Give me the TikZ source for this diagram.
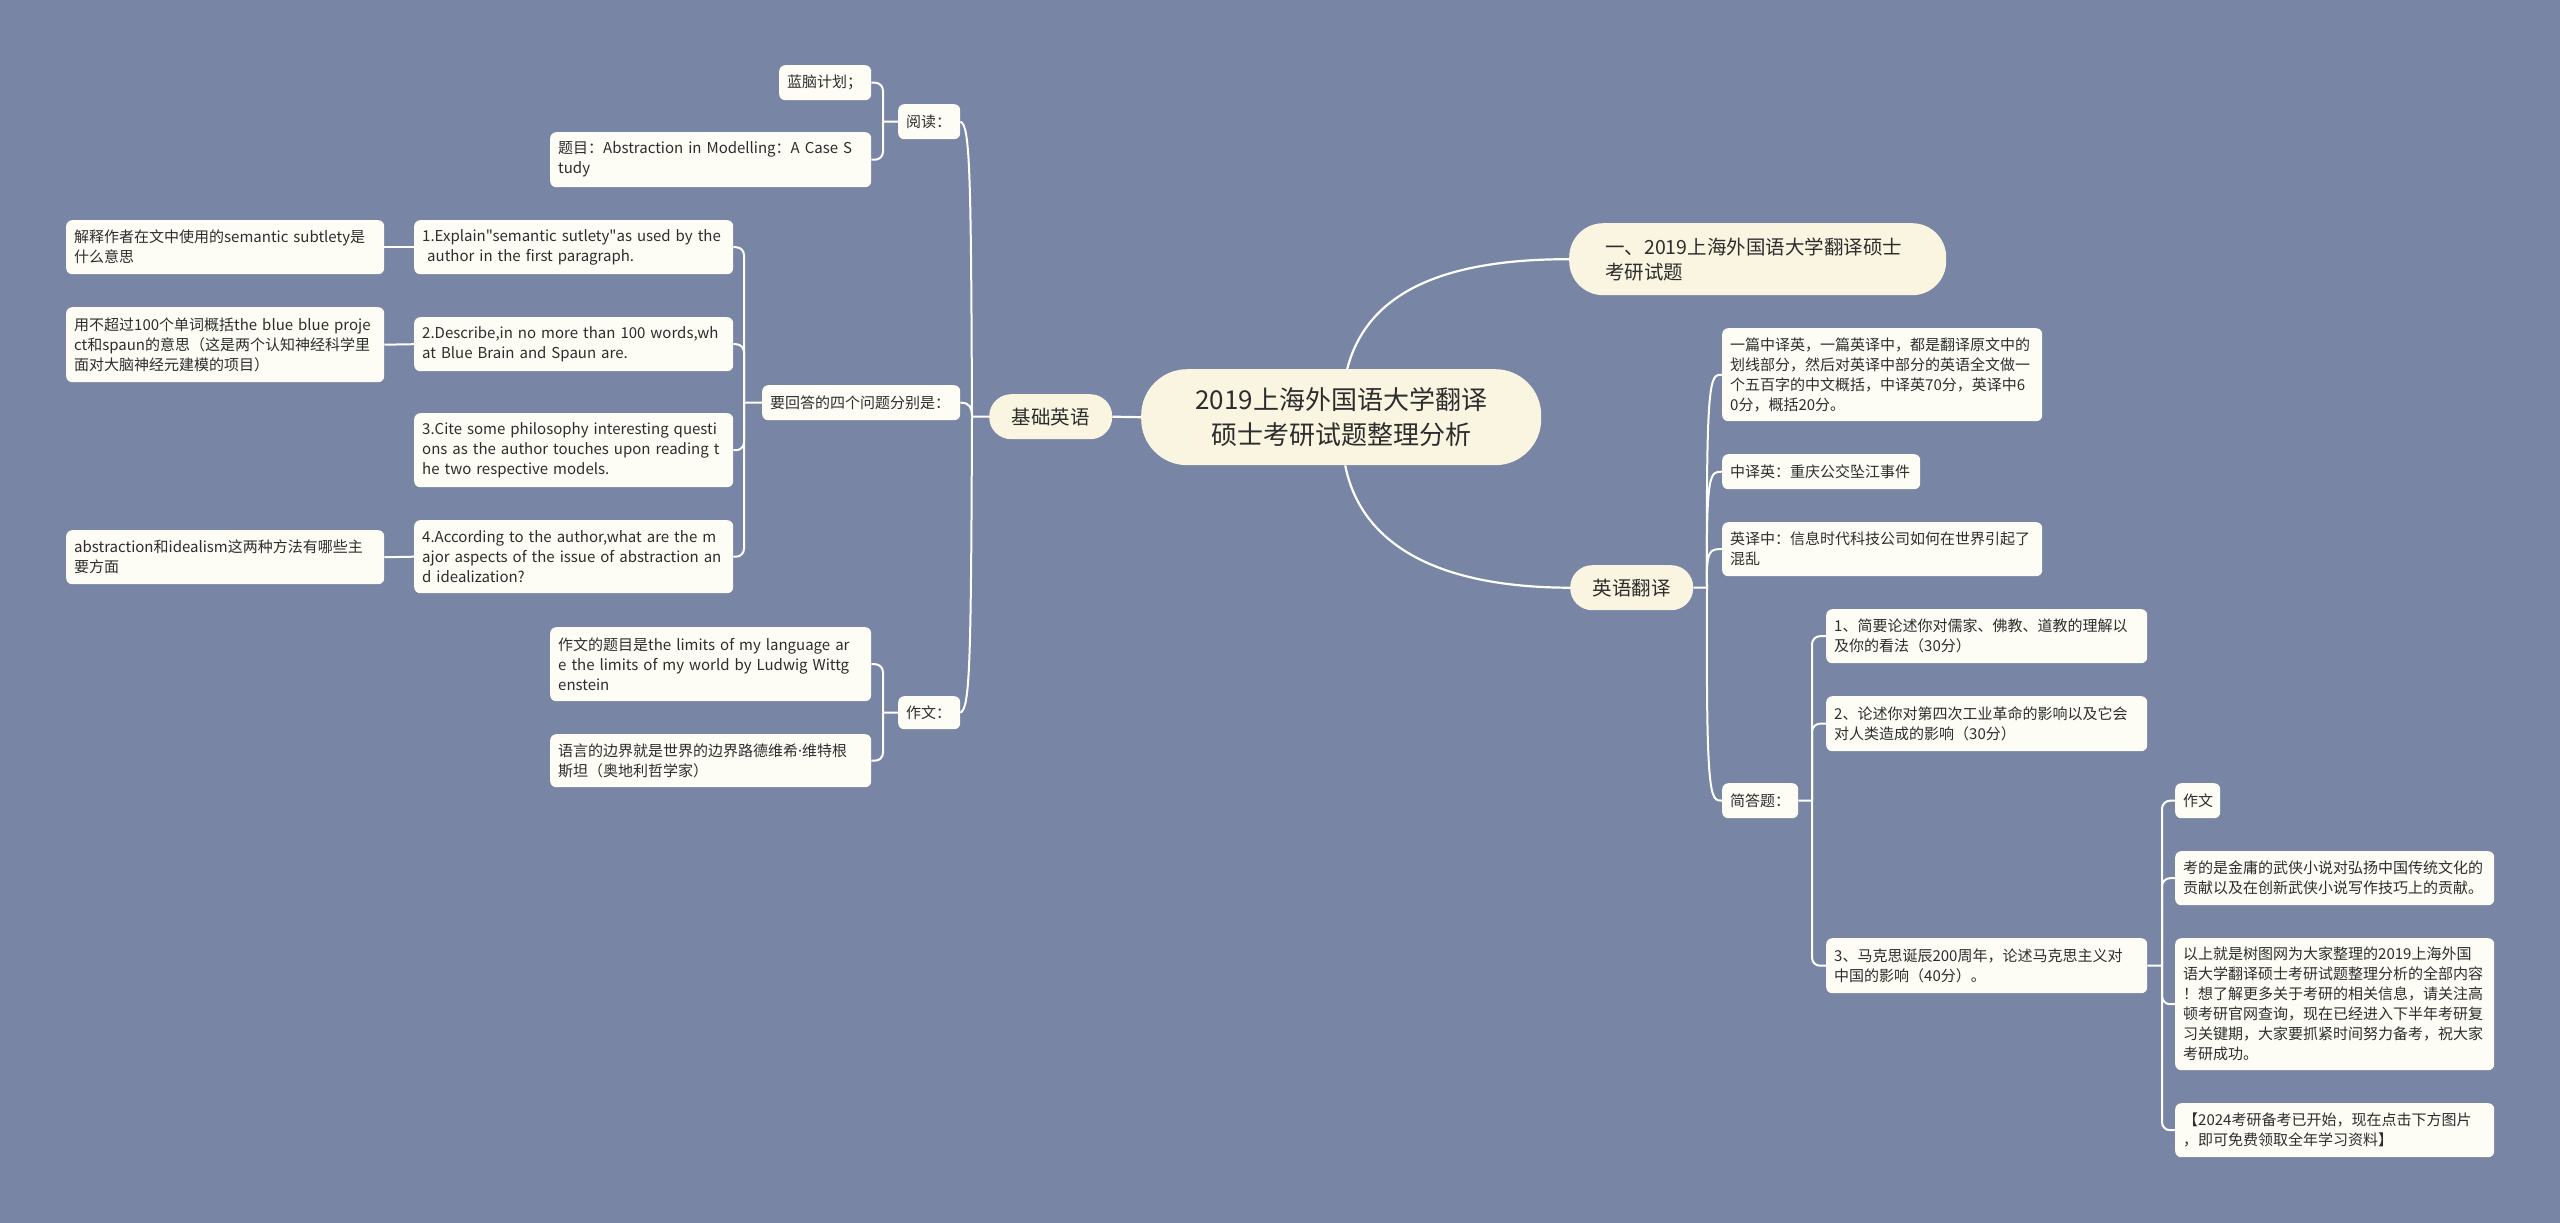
\documentclass[tikz,border=0pt]{standalone}
\usepackage{fontspec}
\setmainfont{Noto Sans CJK SC}[Ligatures=TeXOff]
\newfontfamily\latinfont{Noto Sans}
\usetikzlibrary{calc}
\definecolor{bg}{RGB}{120,133,164}
\definecolor{leaffill}{RGB}{253,253,246}
\definecolor{mainfill}{RGB}{250,245,225}
\definecolor{txt}{RGB}{45,45,45}
\begin{document}
\begin{tikzpicture}[x=1pt,y=-1pt,
  conn/.style={draw=white,line width=2pt},
  elbow/.style={conn,rounded corners=8pt},
  leaf/.style={fill=leaffill,rounded corners=6pt,inner xsep=8pt,inner ysep=0pt,align=left,anchor=north west,text=txt,font=\fontsize{15pt}{20pt}\selectfont},
  topic/.style={fill=mainfill,inner sep=0pt,align=center,anchor=north west,text=txt,font=\fontsize{19.5pt}{25pt}\selectfont,minimum width=123pt,minimum height=45pt,rounded corners=22pt},
  central/.style={fill=mainfill,inner sep=0pt,align=center,anchor=north west,text=txt,font=\fontsize{26pt}{35pt}\selectfont,minimum width=400pt,minimum height=96pt,rounded corners=46pt},
]
\fill[bg] (0,0) rectangle (2560,1223);
\useasboundingbox (0,0) rectangle (2560,1223);

% ---------- central & level-1 ----------
\node[central] (center) at (1141,369) {2019上海外国语大学翻译\\硕士考研试题整理分析};
\node[topic] (jichu) at (989,394) {基础英语};
\node[topic] (yingyu) at (1570,565) {英语翻译};
\node[topic,align=left,inner xsep=36pt,text width=305pt,minimum height=72pt,rounded corners=34pt] (yi) at (1569,223) {一、2019上海外国语大学翻译硕士\\考研试题};

% ---------- left: 基础英语 ----------
\node[leaf,text width=46pt,minimum height=35pt] (yuedu) at (898,104) {阅读：};
\node[leaf,text width=76pt,minimum height=35pt] (lanao) at (779,65) {蓝脑计划；};
\node[leaf,text width=305pt,minimum height=55pt] (timu) at (550,132) {题目：Abstraction in Modelling：A Case S\\tudy};

\node[leaf,text width=182pt,minimum height=35pt] (yaohuida) at (762,385) {要回答的四个问题分别是：};
\node[leaf,text width=303pt,minimum height=54pt] (q1e) at (414,220) {\mbox{1.Explain"semantic sutlety"as used by the}\\\ author in the first paragraph.};
\node[leaf,text width=303pt,minimum height=54pt] (q2e) at (414,317) {2.Describe,in no more than 100 words,wh\\at Blue Brain and Spaun are.};
\node[leaf,text width=303pt,minimum height=74pt] (q3e) at (414,413) {3.Cite some philosophy interesting questi\\ons as the author touches upon reading t\\he two respective models.};
\node[leaf,text width=303pt,minimum height=73pt] (q4e) at (414,520) {4.According to the author,what are the m\\ajor aspects of the issue of abstraction an\\d idealization?};
\node[leaf,text width=302pt,minimum height=54pt] (jieshi) at (66,220) {解释作者在文中使用的semantic subtlety是\\什么意思};
\node[leaf,text width=302pt,minimum height=75pt] (gaikuo) at (66,307) {用不超过100个单词概括the blue blue proje\\ct和spaun的意思（这是两个认知神经科学里\\面对大脑神经元建模的项目）};
\node[leaf,text width=302pt,minimum height=54pt] (abst) at (66,530) {abstraction和idealism这两种方法有哪些主\\要方面};

\node[leaf,text width=46pt,minimum height=33pt] (zuowenL) at (898,696) {作文：};
\node[leaf,text width=305pt,minimum height=74pt] (zwtimu) at (550,627) {作文的题目是the limits of my language ar\\e the limits of my world by Ludwig Wittg\\enstein};
\node[leaf,text width=305pt,minimum height=53pt] (yuyan) at (550,734) {语言的边界就是世界的边界路德维希{\latinfont ·}维特根\\斯坦（奥地利哲学家）};

% ---------- right: 英语翻译 ----------
\node[leaf,text width=304pt,minimum height=93pt] (yipian) at (1722,328) {一篇中译英，一篇英译中，都是翻译原文中的\\划线部分，然后对英译中部分的英语全文做一\\个五百字的中文概括，中译英70分，英译中6\\0分，概括20分。};
\node[leaf,text width=182pt,minimum height=35pt] (zhongyi) at (1722,454) {中译英：重庆公交坠江事件};
\node[leaf,text width=304pt,minimum height=54pt] (yingyi) at (1722,522) {英译中：信息时代科技公司如何在世界引起了\\混乱};
\node[leaf,text width=60pt,minimum height=35pt] (jianda) at (1722,783) {简答题：};
\node[leaf,text width=305pt,minimum height=54pt] (jd1) at (1826,609) {1、简要论述你对儒家、佛教、道教的理解以\\及你的看法（30分）};
\node[leaf,text width=305pt,minimum height=55pt] (jd2) at (1826,696) {2、论述你对第四次工业革命的影响以及它会\\对人类造成的影响（30分）};
\node[leaf,text width=305pt,minimum height=55pt] (jd3) at (1826,938) {3、马克思诞辰200周年，论述马克思主义对\\中国的影响（40分）。};
\node[leaf,text width=29pt,minimum height=35pt] (zuowenR) at (2175,783) {作文};
\node[leaf,text width=303pt,minimum height=54pt] (kaode) at (2175,851) {考的是金庸的武侠小说对弘扬中国传统文化的\\贡献以及在创新武侠小说写作技巧上的贡献。};
\node[leaf,text width=303pt,minimum height=132pt] (yishang) at (2175,938) {以上就是树图网为大家整理的2019上海外国\\语大学翻译硕士考研试题整理分析的全部内容\\！想了解更多关于考研的相关信息，请关注高\\顿考研官网查询，现在已经进入下半年考研复\\习关键期，大家要抓紧时间努力备考，祝大家\\考研成功。};
\node[leaf,text width=303pt,minimum height=54pt] (kaoyan) at (2175,1103) {【2024考研备考已开始，现在点击下方图片\\，即可免费领取全年学习资料】};

% ---------- junctions ----------
\coordinate (jYD) at (883,121.5);
\coordinate (jYH) at (744,402.5);
\coordinate (jZW) at (883,712.5);
\coordinate (jJC) at (972,416.5);
\coordinate (jYY) at (1707,587.5);
\coordinate (jJD) at (1812,800.5);
\coordinate (jD3) at (2162,965.5);

% ---------- connectors: centre ----------
\draw[conn,line width=2.2pt] (center.west) -- (jichu.east);
\draw[conn,line width=2.2pt] ([xshift=6pt]center.north) .. controls (1365,300) and (1430,259) .. (yi.west);
\draw[conn,line width=2.2pt] ([xshift=4pt]center.south) .. controls (1360,540) and (1430,587.5) .. (yingyu.west);

% ---------- connectors: left ----------
\draw[conn] (jichu.west) -- (jJC);
\draw[conn] (yuedu.east) .. controls (970,125) and (971,170) .. (jJC);
\draw[conn] (zuowenL.east) .. controls (970,708) and (971,665) .. (jJC);
\draw[conn] (yaohuida.east) .. controls (970,402.5) and (972,408) .. (jJC);

\draw[conn] (yuedu.west) -- (jYD);
\draw[elbow] (jYD) |- (lanao.east);
\draw[elbow] (jYD) |- (timu.east);

\draw[conn] (yaohuida.west) -- (jYH);
\draw[elbow] (jYH) |- (q1e.east);
\draw[elbow] (jYH) |- (q2e.east);
\draw[elbow] (jYH) |- (q3e.east);
\draw[elbow] (jYH) |- (q4e.east);
\draw[conn] (q1e.west) -- (jieshi.east);
\draw[conn] (q2e.west) -- (gaikuo.east);
\draw[conn] (q4e.west) -- (abst.east);

\draw[conn] (zuowenL.west) -- (jZW);
\draw[elbow] (jZW) |- (zwtimu.east);
\draw[elbow] (jZW) |- (yuyan.east);

% ---------- connectors: right ----------
\draw[conn] (yingyu.east) -- (jYY);
\draw[conn] (jYY) .. controls (1706,374.5) and (1710,374.5) .. (yipian.west);
\draw[conn] (jYY) .. controls (1706,471.5) and (1710,471.5) .. (zhongyi.west);
\draw[conn] (jYY) .. controls (1706,549) and (1710,549) .. (yingyi.west);
\draw[conn] (jYY) .. controls (1706,800.5) and (1710,800.5) .. (jianda.west);

\draw[conn] (jianda.east) -- (jJD);
\draw[elbow] (jJD) |- (jd1.west);
\draw[elbow] (jJD) |- (jd2.west);
\draw[elbow] (jJD) |- (jd3.west);

\draw[conn] (jd3.east) -- (jD3);
\draw[elbow] (jD3) |- (zuowenR.west);
\draw[elbow] (jD3) |- (kaode.west);
\draw[elbow] (jD3) |- (yishang.west);
\draw[elbow] (jD3) |- (kaoyan.west);
\end{tikzpicture}
\end{document}
